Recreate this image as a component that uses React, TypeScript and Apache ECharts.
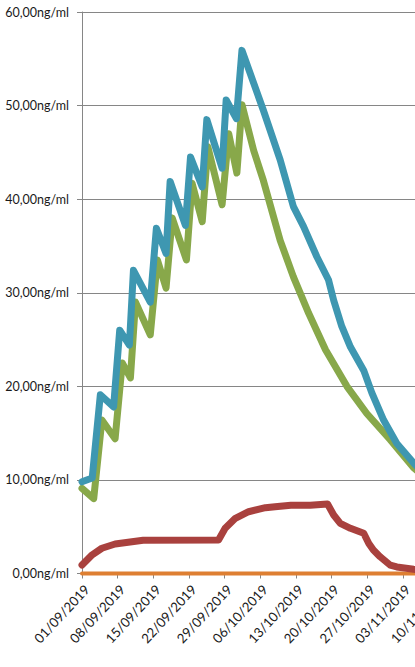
import React, { useEffect, useRef } from "react";
import * as echarts from "echarts";

// x values are days after 01/09/2019
const START_DATE = Date.UTC(2019, 8, 1);
const X_MAX_DAYS = 70;
const TICK_DAYS = 7;

const blueDays = [0, 2, 3.6, 6.2, 7.4, 9.3, 10.1, 13.4, 14.6, 16.5, 17.3, 20.3, 21.3, 23.6, 24.5, 27.5, 28.3, 30.3, 31.4, 33.7, 35.6, 38.9, 41.5, 43.5, 46.1, 48.4, 49.4, 51.0, 52.7, 55.3, 56.9, 59.2, 61.8, 65.1, 66];
const blueValues = [9.8, 10.2, 19.1, 17.8, 26.0, 24.4, 32.4, 29.0, 36.9, 34.2, 41.9, 37.2, 44.5, 41.3, 48.5, 43.3, 50.6, 48.6, 55.9, 52.4, 49.5, 44.2, 39.2, 37.06, 33.85, 31.36, 29.2, 26.4, 24.2, 21.7, 19.3, 16.4, 13.9, 11.8, 11.3];

const greenDays = [0, 2.3, 3.9, 6.5, 7.9, 9.5, 10.5, 13.4, 14.8, 16.5, 17.7, 20.5, 21.6, 23.6, 24.7, 27.5, 28.8, 30.4, 31.4, 33.7, 35.6, 38.9, 41.5, 44.5, 47.8, 52.0, 55.9, 60.5, 65.1, 66];
const greenValues = [9.1, 8.0, 16.4, 14.4, 22.5, 20.9, 29.0, 25.5, 33.5, 30.5, 38.0, 33.5, 41.7, 37.6, 45.6, 39.4, 47.0, 42.8, 50.1, 45.2, 42.0, 35.6, 31.7, 27.8, 23.9, 20.0, 17.1, 14.3, 11.3, 10.9];

const redDays = [0, 2, 3.9, 6.5, 9.8, 12, 26.8, 28.1, 30.1, 32.7, 36, 37.9, 41, 44.8, 48.2, 49.4, 50.7, 52.7, 55.3, 56.3, 57.2, 58.5, 60.5, 61.8, 65.1, 66];
const redValues = [0.9, 2.0, 2.7, 3.15, 3.4, 3.55, 3.58, 4.83, 5.9, 6.6, 7.03, 7.14, 7.3, 7.3, 7.43, 6.25, 5.36, 4.83, 4.3, 3.2, 2.5, 1.8, 0.9, 0.7, 0.45, 0.4];

const orangeDays = [0, 70];
const orangeValues = [0, 0];

const Y_MIN = 0;
const Y_MAX = 60;
const Y_INTERVAL = 10;

const pair = (xs: number[], ys: number[]) => xs.map((x, i) => [x, ys[i]]);

const fmtDate = (d: number) => {
  const dt = new Date(START_DATE + Math.round(d) * 86400000);
  const dd = String(dt.getUTCDate()).padStart(2, "0");
  const mm = String(dt.getUTCMonth() + 1).padStart(2, "0");
  return `${dd}/${mm}/${dt.getUTCFullYear()}`;
};

export default function App() {
  const ref = useRef<HTMLDivElement>(null);
  useEffect(() => {
    if (!ref.current) return;
    const chart = echarts.init(ref.current, null, { renderer: "svg" });
    const font = "Lato";
    const gray = "#868686";
    const lineSeries = (name: string, data: number[][], color: string, width: number) => ({
      name,
      type: "line",
      data,
      showSymbol: false,
      symbol: "none",
      clip: false,
      lineStyle: { color, width, cap: "round", join: "round" },
      itemStyle: { color },
    });
    chart.setOption({
      animation: false,
      grid: { left: 82, top: 12, bottom: 93.5, right: 41.4, containLabel: false },
      xAxis: {
        type: "value",
        min: 0,
        max: X_MAX_DAYS,
        interval: TICK_DAYS,
        axisLine: { show: true, lineStyle: { color: gray, width: 1 } },
        axisTick: { show: true, length: 5, lineStyle: { color: gray } },
        splitLine: { show: false },
        axisLabel: {
          rotate: 47,
          margin: 9,
          verticalAlign: "top",
          color: "#1a1a1a",
          fontFamily: font,
          fontSize: 13.3,
          formatter: (v: number) => fmtDate(v),
        },
      },
      yAxis: {
        type: "value",
        min: Y_MIN,
        max: Y_MAX,
        interval: Y_INTERVAL,
        axisLine: { show: true, lineStyle: { color: gray, width: 1 } },
        axisTick: { show: true, length: 5, lineStyle: { color: gray } },
        splitLine: { show: true, lineStyle: { color: gray, width: 1 } },
        axisLabel: {
          margin: 13,
          color: "#1a1a1a",
          fontFamily: font,
          fontSize: 12.5,
          formatter: (v: number) => v.toFixed(2).replace(".", ",") + "ng/ml",
        },
      },
      series: [
        lineSeries("orange", pair(orangeDays, orangeValues), "#DE7F32", 4),
        lineSeries("red", pair(redDays, redValues), "#A9413E", 7),
        lineSeries("green", pair(greenDays, greenValues), "#88A84A", 7),
        lineSeries("blue", pair(blueDays, blueValues), "#3E97B1", 7),
      ],
    });
    return () => chart.dispose();
  }, []);
  return (
    <div style={{ position: "fixed", left: 0, top: 0, width: 415, height: 667, overflow: "hidden", background: "#fff" }}>
      <div ref={ref} style={{ width: 480, height: 667 }} />
    </div>
  );
}
